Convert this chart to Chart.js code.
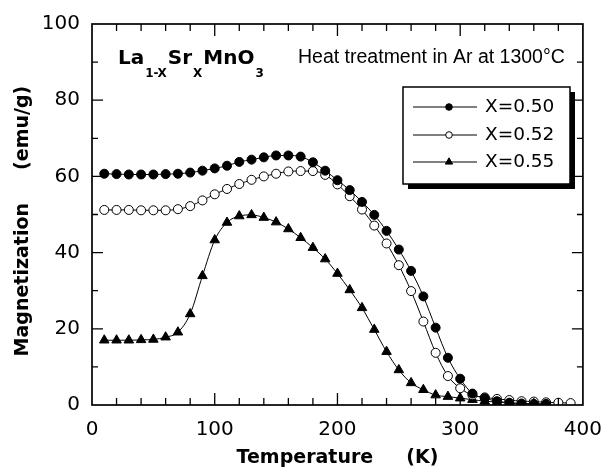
<!DOCTYPE html>
<html>
<head>
<meta charset="utf-8">
<title>La1-xSrxMnO3 magnetization</title>
<script src="https://cdn.jsdelivr.net/npm/chart.js@4.4.1/dist/chart.umd.min.js"></script>
<style>
  html, body { margin: 0; padding: 0; background: #fff; }
</style>
</head>
<body>
<canvas id="magChart" width="615" height="470"></canvas>
<script>
// Temperature (K) of each measured point
const tempK = [10, 20, 30, 40, 50, 60, 70, 80, 90, 100, 110, 120, 130, 140, 150, 160, 170, 180, 190, 200,
  210, 220, 230, 240, 250, 260, 270, 280, 290, 300, 310, 320, 330, 340, 350, 360, 370, 380, 390];

// Magnetization (emu/g)
const magX050 = [60.7, 60.6, 60.5, 60.5, 60.5, 60.6, 60.7, 61.0, 61.5, 62.1, 62.8, 63.8, 64.4, 65.0, 65.5, 65.5, 65.2, 63.7, 61.5, 59.0,
  56.4, 53.3, 49.9, 45.7, 40.8, 35.2, 28.5, 20.3, 12.4, 6.9, 3.0, 1.8, 1.0, 0.6, 0.4, 0.3, 0.3];
const magX052 = [51.2, 51.2, 51.2, 51.1, 51.1, 51.1, 51.4, 52.2, 53.7, 55.3, 56.7, 58.0, 59.1, 60.0, 60.7, 61.3, 61.4, 61.4, 60.4, 57.9,
  54.8, 51.3, 47.1, 42.4, 36.7, 29.9, 21.9, 13.7, 7.6, 4.4, 2.6, 2.0, 1.6, 1.3, 1.0, 0.9, 0.7, 0.6, 0.5];
const magX055 = [17.0, 17.0, 17.0, 17.1, 17.2, 17.8, 19.1, 23.9, 33.9, 43.3, 47.9, 49.6, 49.9, 49.2, 48.0, 46.2, 43.9, 41.3, 38.3, 34.5,
  30.2, 25.5, 19.8, 14.0, 9.2, 5.8, 4.0, 2.6, 2.2, 1.8, 1.4, 1.0, 0.8, 0.5, 0.4, 0.3, 0.2];

const seriesLabels = ['X=0.50', 'X=0.52', 'X=0.55'];
const xTicks = [0, 100, 200, 300, 400];
const yTicks = [0, 20, 40, 60, 80, 100];

function toPoints(values) {
  return values.map((v, i) => ({ x: tempK[i], y: v }));
}

Chart.defaults.font.family = "'DejaVu Sans', sans-serif";
Chart.defaults.color = '#000';

// Frame with inward ticks on all four sides
const framePlugin = {
  id: 'frame',
  afterDatasetsDraw(chart) {
    const ctx = chart.ctx;
    const area = chart.chartArea;
    const xs = chart.scales.x, ys = chart.scales.y;
    ctx.save();
    ctx.strokeStyle = '#000';
    ctx.lineWidth = 1.7;
    ctx.strokeRect(area.left, area.top, area.right - area.left, area.bottom - area.top);
    ctx.lineWidth = 1.3;
    ctx.beginPath();
    for (let v = 20; v < 400; v += 20) {
      const px = xs.getPixelForValue(v);
      const len = v % 100 === 0 ? 12 : 7;
      ctx.moveTo(px, area.bottom); ctx.lineTo(px, area.bottom - len);
      ctx.moveTo(px, area.top); ctx.lineTo(px, area.top + len);
    }
    for (let v = 10; v < 100; v += 10) {
      const py = ys.getPixelForValue(v);
      const len = v % 20 === 0 ? 11 : 6;
      ctx.moveTo(area.left, py); ctx.lineTo(area.left + len, py);
      ctx.moveTo(area.right, py); ctx.lineTo(area.right - len, py);
    }
    ctx.stroke();
    ctx.restore();
  },
  afterDraw(chart) {
    const ctx = chart.ctx;
    ctx.save();
    ctx.fillStyle = '#000';
    ctx.textBaseline = 'alphabetic';

    // compound formula with subscripts
    const parts = [['La', false], ['1-X', true], ['Sr', false], ['X', true], ['MnO', false], ['3', true]];
    let x = 118;
    parts.forEach(([txt, sub]) => {
      ctx.font = sub ? "bold 12px 'DejaVu Sans'" : "bold 20px 'DejaVu Sans'";
      ctx.fillText(txt, x, sub ? 77 : 64);
      x += ctx.measureText(txt).width + 1;
    });

    ctx.font = "19.5px 'Liberation Sans'";
    ctx.fillText('Heat treatment in Ar at 1300\u00B0C', 298, 63);

    // legend box with drop shadow
    const bx = 403, by = 87, bw = 167, bh = 97;
    ctx.fillRect(bx + 5, by + 5, bw, bh);
    ctx.fillStyle = '#fff';
    ctx.fillRect(bx, by, bw, bh);
    ctx.strokeStyle = '#000';
    ctx.lineWidth = 1.5;
    ctx.strokeRect(bx, by, bw, bh);

    const rows = [107, 135, 162];
    chart.data.datasets.forEach((ds, i) => {
      const y = rows[i];
      ctx.lineWidth = 1;
      ctx.beginPath();
      ctx.moveTo(413, y); ctx.lineTo(477, y);
      ctx.stroke();
      ctx.fillStyle = ds.pointBackgroundColor;
      ctx.beginPath();
      if (ds.pointStyle === 'triangle') {
        const r = 4.2;
        ctx.moveTo(449, y - r);
        ctx.lineTo(449 + r * 0.866, y + r / 2);
        ctx.lineTo(449 - r * 0.866, y + r / 2);
        ctx.closePath();
      } else {
        ctx.arc(449, y, 3.3, 0, Math.PI * 2);
      }
      ctx.fill();
      ctx.stroke();
      ctx.fillStyle = '#000';
      ctx.font = "18.5px 'DejaVu Sans'";
      ctx.textBaseline = 'middle';
      ctx.fillText(ds.label, 485, y);
      ctx.textBaseline = 'alphabetic';
    });
    ctx.restore();
  }
};

const baseSet = {
  borderColor: '#000',
  borderWidth: 1,
  pointBorderColor: '#000',
  pointBorderWidth: 1,
  cubicInterpolationMode: 'monotone',
  fill: false
};

new Chart(document.getElementById('magChart'), {
  type: 'line',
  data: {
    datasets: [
      { ...baseSet, label: seriesLabels[0], data: toPoints(magX050), pointStyle: 'circle', pointRadius: 4.5, pointBackgroundColor: '#000' },
      { ...baseSet, label: seriesLabels[1], data: toPoints(magX052), pointStyle: 'circle', pointRadius: 4.5, pointBackgroundColor: '#fff' },
      { ...baseSet, label: seriesLabels[2], data: toPoints(magX055), pointStyle: 'triangle', pointRadius: 5.5, pointBackgroundColor: '#000' }
    ]
  },
  options: {
    responsive: false,
    animation: false,
    devicePixelRatio: 1,
    layout: { padding: { left: 0, top: 20, right: 24, bottom: 0 } },
    plugins: {
      legend: { display: false },
      tooltip: { enabled: false }
    },
    scales: {
      x: {
        type: 'linear',
        min: 0,
        max: 400,
        afterBuildTicks: scale => { scale.ticks = xTicks.map(v => ({ value: v })); },
        afterFit: scale => { scale.height = 65; },
        grid: { display: false, drawTicks: false },
        border: { display: false },
        ticks: { font: { size: 20 }, color: '#000', padding: 13, maxRotation: 0 },
        title: {
          display: true,
          text: 'Temperature     (K)',
          font: { size: 19, weight: 'bold' },
          color: '#000',
          padding: { top: 0, bottom: 1 }
        }
      },
      y: {
        min: 0,
        max: 100,
        afterBuildTicks: scale => { scale.ticks = yTicks.map(v => ({ value: v })); },
        afterFit: scale => { scale.width = 92; },
        grid: { display: false, drawTicks: false },
        border: { display: false },
        ticks: { font: { size: 20 }, color: '#000', padding: 12 },
        title: {
          display: true,
          text: 'Magnetization     (emu/g)  ',
          font: { size: 19, weight: 'bold' },
          color: '#000',
          padding: { top: 12, bottom: 0 }
        }
      }
    }
  },
  plugins: [framePlugin]
});
</script>
</body>
</html>
